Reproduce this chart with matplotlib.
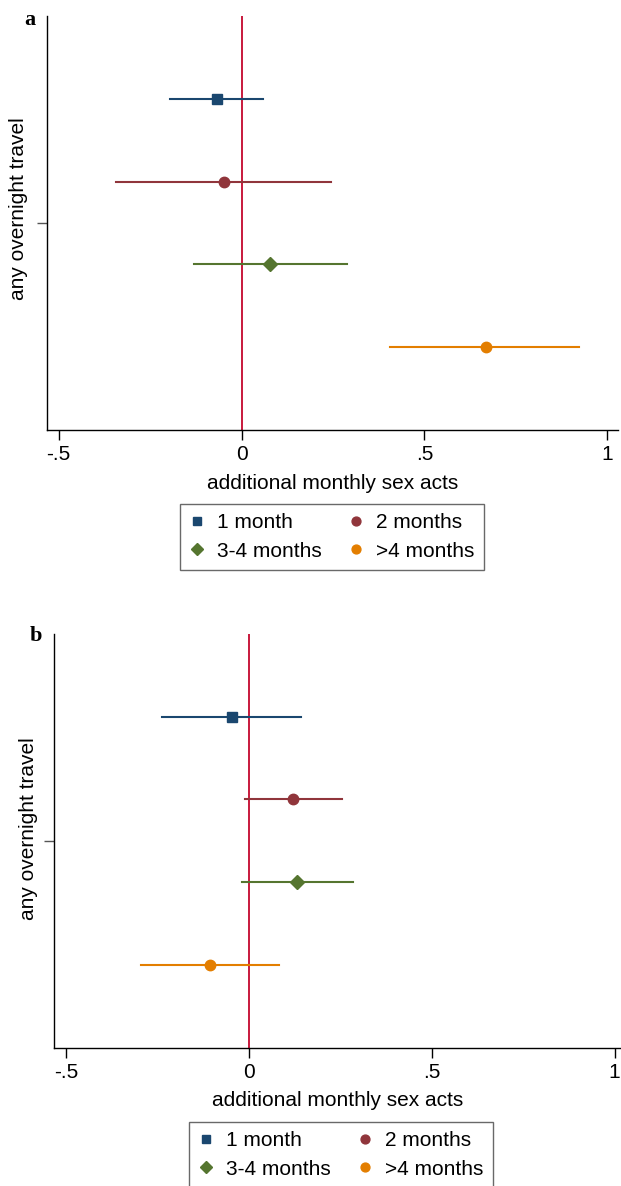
import matplotlib
matplotlib.use("Agg")
import matplotlib.pyplot as plt
from matplotlib.lines import Line2D

plt.rcParams['font.family'] = ['Liberation Sans', 'DejaVu Sans']

# series (top to bottom within the coefficient row)
series = ['1 month', '2 months', '3-4 months', '>4 months']
colors = ['#1a476f', '#90353b', '#55752f', '#e37e00']
markers = ['s', 'o', 'D', 'o']
msizes = [7.5, 7.5, 7.5, 7.5]
offsets = [-0.3, -0.1, 0.1, 0.3]

coef_label = 'any overnight travel'

# panel a: point estimate, lower CI, upper CI
a_est = [-0.068, -0.049, 0.079, 0.667]
a_lo = [-0.195, -0.344, -0.131, 0.406]
a_hi = [0.060, 0.245, 0.288, 0.922]

# panel b
b_est = [-0.048, 0.120, 0.131, -0.107]
b_lo = [-0.239, -0.012, -0.019, -0.296]
b_hi = [0.143, 0.255, 0.283, 0.082]

xticks = [-0.5, 0, 0.5, 1]
xticklabels = ['-.5', '0', '.5', '1']

W, H = 621, 1186
FS = 15
fig = plt.figure(figsize=(W / 100, H / 100), dpi=100)


def panel(rect, est, lo, hi, xlim, letter, letter_xy, ylab_xy, leg_xy):
    ax = fig.add_axes(rect)
    ax.axvline(0, color='#c8193c', lw=1.4, zorder=1)
    for k in range(len(series)):
        y = 1 + offsets[k]
        ax.plot([lo[k], hi[k]], [y, y], color=colors[k], lw=1.5, zorder=2)
        ax.plot(est[k], y, marker=markers[k], ms=msizes[k], color=colors[k],
                mec=colors[k], ls='none', zorder=3)
    ax.set_xlim(*xlim)
    ax.set_ylim(1.5, 0.5)
    ax.set_xticks(xticks)
    ax.set_xticklabels(xticklabels)
    ax.set_yticks([1])
    ax.set_yticklabels([''])
    for s in ['top', 'right']:
        ax.spines[s].set_visible(False)
    for s in ['left', 'bottom']:
        ax.spines[s].set_linewidth(1.0)
    ax.tick_params(axis='x', length=7, width=1.0, labelsize=FS, pad=4)
    ax.tick_params(axis='y', length=7, width=1.0, color='#555555')
    ax.set_xlabel('additional monthly sex acts', fontsize=FS, labelpad=7)
    fig.text(ylab_xy[0] / W, 1 - ylab_xy[1] / H, coef_label, rotation=90,
             ha='center', va='center', fontsize=FS)
    fig.text(letter_xy[0] / W, 1 - letter_xy[1] / H, letter, fontsize=16,
             fontweight='bold', family='Liberation Serif', ha='center', va='center')
    handles = [Line2D([], [], marker=markers[k], ms=msizes[k] * 0.85, color=colors[k],
                      ls='none') for k in range(len(series))]
    order = [0, 2, 1, 3]
    leg = fig.legend([handles[i] for i in order], [series[i] for i in order],
                     ncol=2, loc='upper center',
                     bbox_to_anchor=(leg_xy[0] / W, 1 - leg_xy[1] / H),
                     fontsize=FS, frameon=True, fancybox=False,
                     handlelength=0.7, handletextpad=0.6, columnspacing=1.3,
                     borderpad=0.45, labelspacing=0.45, borderaxespad=0)
    leg.get_frame().set_edgecolor('#444444')
    leg.get_frame().set_linewidth(1.0)
    return ax


rect_a = [46.5 / W, 1 - 430 / H, (618 - 46.5) / W, 414 / H]
rect_b = [54.4 / W, 1 - 1047.5 / H, (620.5 - 54.4) / W, 413.5 / H]

panel(rect_a, a_est, a_lo, a_hi, (-0.533, 1.029), 'a', (30, 20), (19, 209), (332, 504))
panel(rect_b, b_est, b_lo, b_hi, (-0.533, 1.016), 'b', (36, 636), (29, 829), (341, 1122))

fig.savefig('out.png', dpi=100)
